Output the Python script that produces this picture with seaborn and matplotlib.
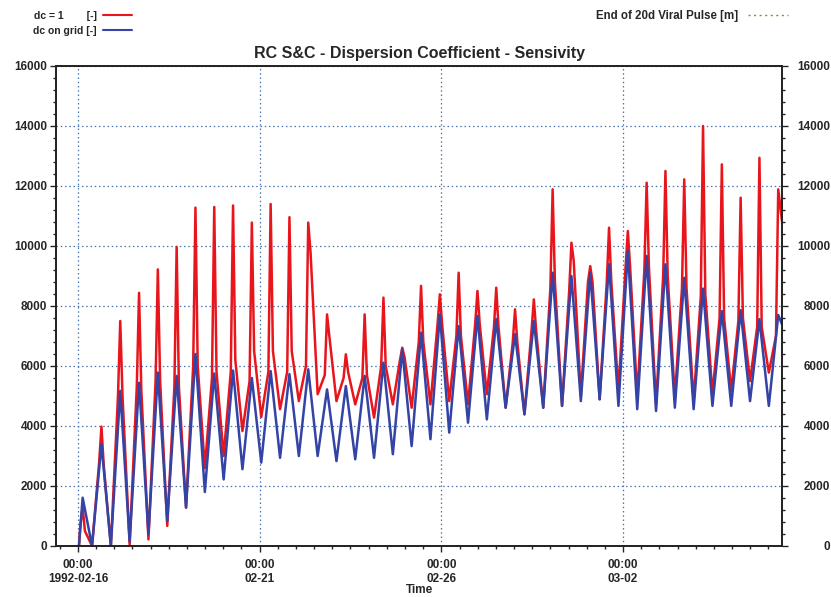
import numpy as np
import pandas as pd
import matplotlib
matplotlib.use("Agg")
import matplotlib.pyplot as plt
import matplotlib.dates as mdates
from matplotlib.ticker import MultipleLocator, FixedLocator
from matplotlib.lines import Line2D
import seaborn as sns

# ---------------- data ----------------
series_names = ["dc = 1        [-]", "dc on grid [-]"]
pulse_name = "End of 20d Viral Pulse [m]"

# tidal peaks (38) and troughs (37) of each series
red_peaks = [1300, 3980, 7500, 8440, 9220, 9970, 11280, 11300, 11350, 10780,
             11400, 10960, 10780, 7720, 6390, 7720, 8280, 6610, 8670, 8390,
             9110, 8500, 8610, 7890, 8220, 11890, 10110, 9330, 10610, 10500,
             12110, 12500, 12220, 14000, 12720, 11610, 12940, 11890]
red_troughs = [0, 0, 50, 220, 670, 1280, 2600, 3000, 3830, 4300,
               4560, 4830, 5060, 4830, 4720, 4280, 4720, 4610, 4720, 4830,
               4720, 5060, 4610, 4390, 4610, 4670, 5000, 4890, 5170, 5000,
               4720, 4940, 4830, 5060, 5170, 5500, 5780]
# level at the foot of each red spike (rising side / falling side)
red_rise_foot = [700, 2800, 5000, 5300, 5500, 5300, 6000, 5600, 5800, 5500,
                 5800, 5800, 6000, 5700, 5600, 5600, 6000, 6200, 6800, 7400,
                 7000, 7400, 7300, 6800, 7200, 8600, 8500, 8800, 8800, 9300,
                 9200, 9000, 8600, 8300, 7600, 7500, 7300, 7000]
red_fall_foot = [500, 2700, 5000, 5200, 5500, 5300, 6000, 5800, 6200, 6500,
                 6500, 6500, 9800, 7000, 5800, 5700, 6000, 6300, 6800, 7400,
                 7000, 7400, 7300, 6800, 7200, 8800, 9500, 8800, 8800, 9300,
                 9300, 9000, 8600, 8400, 7600, 7600, 7300]
blue_peaks = [1610, 3390, 5170, 5440, 5780, 5670, 6400, 5750, 5850, 5600,
              5830, 5730, 5890, 5220, 5330, 5670, 6110, 6560, 7110, 7720,
              7330, 7670, 7560, 7060, 7500, 9110, 9000, 9110, 9390, 9830,
              9670, 9390, 8940, 8580, 7830, 7860, 7560, 7700]
blue_troughs = [0, 0, 150, 390, 830, 1280, 1800, 2220, 2560, 2780,
                2940, 3000, 3000, 2830, 2890, 2940, 3060, 3330, 3560, 3780,
                4110, 4220, 4610, 4390, 4610, 4670, 4830, 4890, 4670, 4560,
                4500, 4610, 4560, 4670, 4670, 4830, 4670]
start_values = [0, 0]
end_values = [10830, 7390]

start_time = "1992-02-16 00:40"
first_peak_time = "1992-02-16 03:06"
tide_period = "44700s"        # 12 h 25 min
foot_offset = "90min"
end_time = "1992-03-06 09:00"

x_tick_dates = ["1992-02-16", "1992-02-21", "1992-02-26", "1992-03-02"]
x_tick_labels = ["00:00\n1992-02-16", "00:00\n02-21", "00:00\n02-26", "00:00\n03-02"]
x_limits = ["1992-02-15 09:30", "1992-03-06 09:00"]
y_ticks = [0, 2000, 4000, 6000, 8000, 10000, 12000, 14000, 16000]

title = "RC S&C - Dispersion Coefficient - Sensivity"
x_label = "Time"

# ---------------- build table ----------------
peak_t = pd.date_range(first_peak_time, periods=len(red_peaks), freq=tide_period)
step = pd.Timedelta(tide_period)
trough_t = peak_t[:-1] + step / 2
foot = pd.Timedelta(foot_offset)

def frame(name, pts):
    pts = sorted(pts, key=lambda p: p[0])
    return pd.DataFrame({"time": [p[0] for p in pts], "value": [p[1] for p in pts], "series": name})

red_pts = [(pd.Timestamp(start_time), start_values[0]), (pd.Timestamp(end_time), end_values[0])]
red_pts += list(zip(peak_t, red_peaks)) + list(zip(trough_t, red_troughs))
red_pts += list(zip(peak_t - foot, red_rise_foot)) + list(zip(peak_t[:len(red_fall_foot)] + foot, red_fall_foot))
blue_pts = [(pd.Timestamp(start_time), start_values[1]), (pd.Timestamp(end_time), end_values[1])]
blue_pts += list(zip(peak_t, blue_peaks)) + list(zip(trough_t, blue_troughs))
df = pd.concat([frame(series_names[0], red_pts), frame(series_names[1], blue_pts)], ignore_index=True)

# ---------------- style ----------------
sns.set_style("ticks")
plt.rcParams["font.family"] = ["Liberation Sans", "DejaVu Sans"]
plt.rcParams["font.weight"] = "bold"

red = "#e8161c"
blue = "#3343a6"
olive = "#8c8c2a"
grid_col = "#4876b0"

fig = plt.figure(figsize=(8.31, 5.97), dpi=100)
ax = fig.add_axes([56 / 831, 1 - 546 / 597, (782 - 56) / 831, (546 - 66) / 597])

sns.lineplot(data=df, x="time", y="value", hue="series", palette=[red, blue],
             hue_order=series_names, estimator=None, sort=False, legend=False,
             linewidth=1.8, ax=ax)

ax.set_xlim(pd.Timestamp(x_limits[0]), pd.Timestamp(x_limits[1]))
ax.set_ylim(y_ticks[0], y_ticks[-1])

ax.xaxis.set_major_locator(FixedLocator(mdates.date2num(pd.to_datetime(x_tick_dates))))
ax.set_xticklabels(x_tick_labels)
ax.xaxis.set_minor_locator(mdates.HourLocator(byhour=[0, 12]))
ax.yaxis.set_major_locator(FixedLocator(y_ticks))
ax.yaxis.set_minor_locator(MultipleLocator(400))

ax.grid(True, which="major", color=grid_col, linestyle=(0, (1.2, 2.2)), linewidth=0.9)
ax.set_axisbelow(True)

for sp in ax.spines.values():
    sp.set_visible(True)
    sp.set_color("black")
    sp.set_linewidth(1.2)

ax.tick_params(axis="both", which="major", direction="out", length=4.5, width=1, labelsize=8.5, pad=2)
ax.tick_params(axis="both", which="minor", direction="out", length=2.5, width=1)
ax.tick_params(axis="x", which="major", pad=5)
for lab in ax.get_xticklabels() + ax.get_yticklabels():
    lab.set_fontweight("bold")

ax.set_xlabel(x_label, fontsize=8.5, fontweight="bold", labelpad=-1)
ax.set_ylabel("")
ax.set_title(title, fontsize=11.5, fontweight="bold", pad=6)

ax2 = ax.twinx()
ax2.set_ylim(y_ticks[0], y_ticks[-1])
ax2.yaxis.set_major_locator(FixedLocator(y_ticks))
ax2.yaxis.set_minor_locator(MultipleLocator(400))
ax2.tick_params(axis="y", which="major", direction="out", length=4.5, width=1, labelsize=8.5, pad=30)
ax2.tick_params(axis="y", which="minor", direction="out", length=2.5, width=1)
for lab in ax2.get_yticklabels():
    lab.set_fontweight("bold")
    lab.set_horizontalalignment("right")
for sp in ax2.spines.values():
    sp.set_linewidth(1.2)

handles = [Line2D([], [], color=red, lw=1.5), Line2D([], [], color=blue, lw=1.5)]
fig.legend(handles, series_names, loc="upper left", bbox_to_anchor=(33 / 831, 1 - 11 / 597),
           frameon=False, markerfirst=False, handlelength=2.8,
           handletextpad=0.6, labelspacing=0.45, borderpad=0, borderaxespad=0,
           prop={"weight": "bold", "size": 7.5})
fig.legend([Line2D([], [], color=olive, lw=1, linestyle=(0, (1.5, 2.5)))], [pulse_name],
           loc="upper right", bbox_to_anchor=(788 / 831, 1 - 10 / 597),
           frameon=False, markerfirst=False, handlelength=3.5,
           handletextpad=0.8, borderpad=0, borderaxespad=0,
           prop={"weight": "bold", "size": 8.3})

fig.savefig("out.png", dpi=100)
